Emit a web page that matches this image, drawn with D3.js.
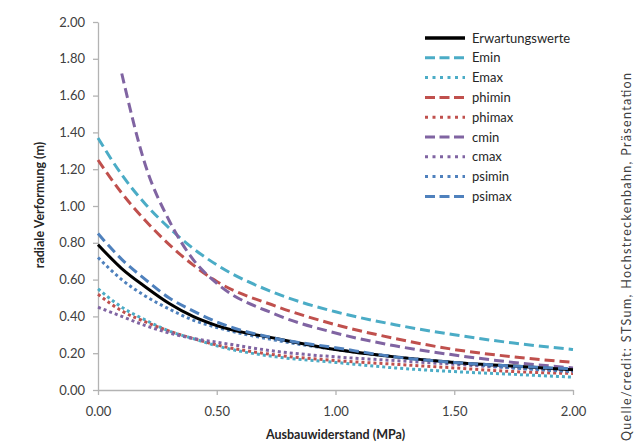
<!DOCTYPE html>
<html>
<head>
<meta charset="utf-8">
<script src="https://cdn.jsdelivr.net/npm/d3@7"></script>
<style>
  body { margin: 0; background: #fff; }
  svg text { font-family: Lato, "Open Sans", sans-serif; }
</style>
</head>
<body>
<div class="chart"></div>
<script>
// x values (MPa)
const xVals = [0, 0.1, 0.2, 0.3, 0.4, 0.5, 0.75, 1.0, 1.25, 1.5, 1.75, 2.0];

// radial deformation (m)
const erwartung = [0.79, 0.66, 0.56, 0.47, 0.40, 0.35, 0.28, 0.22, 0.18, 0.15, 0.13, 0.11];
const emin      = [1.37, 1.17, 1.01, 0.88, 0.77, 0.68, 0.525, 0.425, 0.355, 0.30, 0.255, 0.22];
const emax      = [0.55, 0.45, 0.38, 0.32, 0.28, 0.24, 0.18, 0.15, 0.12, 0.10, 0.085, 0.07];
const phimin    = [1.25, 1.07, 0.92, 0.79, 0.68, 0.59, 0.455, 0.355, 0.28, 0.22, 0.18, 0.15];
const phimax    = [0.52, 0.43, 0.37, 0.32, 0.28, 0.245, 0.19, 0.16, 0.14, 0.12, 0.10, 0.09];
const cmin      = [null, 1.72, 1.22, 0.92, 0.71, 0.58, 0.41, 0.31, 0.24, 0.19, 0.15, 0.12];
const cmax      = [0.45, 0.40, 0.35, 0.31, 0.28, 0.26, 0.21, 0.18, 0.16, 0.14, 0.12, 0.105];
const psimin    = [0.72, 0.60, 0.51, 0.44, 0.38, 0.34, 0.27, 0.22, 0.18, 0.15, 0.12, 0.10];
const psimax    = [0.85, 0.71, 0.60, 0.50, 0.43, 0.37, 0.28, 0.23, 0.18, 0.15, 0.13, 0.115];

const xTicks = [0, 0.5, 1.0, 1.5, 2.0];
const yTicks = [0, 0.2, 0.4, 0.6, 0.8, 1.0, 1.2, 1.4, 1.6, 1.8, 2.0];

const seriesNames = ["Erwartungswerte", "Emin", "Emax", "phimin", "phimax", "cmin", "cmax", "psimin", "psimax"];
const seriesValues = [erwartung, emin, emax, phimin, phimax, cmin, cmax, psimin, psimax];

// styling per series
const colors = {
  Erwartungswerte: "#000000",
  Emin: "#4bacc6", Emax: "#4bacc6",
  phimin: "#c0504d", phimax: "#c0504d",
  cmin: "#8064a2", cmax: "#8064a2",
  psimin: "#4f81bd", psimax: "#4f81bd"
};
const dashOf = name => {
  if (name === "Erwartungswerte") return null;
  if (name === "psimin") return "3,3";
  if (name === "psimax") return "10,5";
  return name.endsWith("min") ? "10,5" : "3,3";
};

const series = seriesNames.map((name, i) => ({
  name,
  values: xVals.map((x, j) => ({ x, y: seriesValues[i][j] }))
}));

// margin convention
const margin = { top: 22, right: 67, bottom: 55, left: 98 };
const W = 640, H = 445;
const width = W - margin.left - margin.right,
  height = H - margin.top - margin.bottom;

const svg = d3.select(".chart")
  .append("svg")
  .attr("width", W)
  .attr("height", H);

const g = svg.append("g")
  .attr("transform", `translate(${margin.left},${margin.top})`);

const x = d3.scaleLinear().domain([0, 2]).range([0, width]);
const y = d3.scaleLinear().domain([0, 2]).range([height, 0]);

// axes
const xAxis = d3.axisBottom(x).tickValues(xTicks).tickFormat(d3.format(".2f")).tickSizeInner(5).tickSizeOuter(0).tickPadding(12);
const yAxis = d3.axisLeft(y).tickValues(yTicks).tickFormat(d3.format(".2f")).tickSizeInner(5).tickSizeOuter(0).tickPadding(8);

g.append("g")
  .attr("class", "axis x-axis")
  .attr("transform", `translate(0,${height})`)
  .call(xAxis);

g.append("g")
  .attr("class", "axis y-axis")
  .call(yAxis);

g.selectAll(".axis path, .axis line")
  .attr("stroke", "#b3b3b3")
  .attr("stroke-width", 1.3);
g.selectAll(".axis text")
  .attr("fill", "#404040")
  .style("font-size", "13px");
g.select(".x-axis").selectAll("text").attr("dy", "0.71em");

// axis titles
svg.append("text")
  .attr("x", margin.left + width / 2)
  .attr("y", 439)
  .attr("text-anchor", "middle")
  .attr("font-weight", "bold")
  .attr("fill", "#262626")
  .style("font-size", "12.5px")
  .text("Ausbauwiderstand (MPa)");

svg.append("text")
  .attr("transform", "translate(44,205) rotate(-90)")
  .attr("text-anchor", "middle")
  .attr("font-weight", "bold")
  .attr("fill", "#262626")
  .style("font-size", "12.5px")
  .text("radiale Verformung (m)");

// lines
const line = d3.line()
  .defined(d => d.y !== null)
  .x(d => x(d.x))
  .y(d => y(d.y))
  .curve(d3.curveMonotoneX);

// draw in an order so the black line sits on top of the dotted ones
const drawOrder = ["Emin", "phimin", "cmin", "Emax", "phimax", "cmax", "psimin", "Erwartungswerte", "psimax"];
g.selectAll(".series")
  .data(drawOrder.map(n => series.find(s => s.name === n)))
  .enter()
  .append("path")
  .attr("class", "series")
  .attr("fill", "none")
  .attr("stroke", d => colors[d.name])
  .attr("stroke-width", 3)
  .attr("stroke-dasharray", d => dashOf(d.name))
  .attr("d", d => line(d.values));

// legend
const legend = svg.append("g").attr("transform", "translate(425,38)");
const rows = legend.selectAll(".row")
  .data(seriesNames)
  .enter()
  .append("g")
  .attr("class", "row")
  .attr("transform", (d, i) => `translate(0,${i * 19.8})`);

rows.append("line")
  .attr("x1", 0).attr("x2", 40)
  .attr("y1", 0).attr("y2", 0)
  .attr("stroke", d => colors[d])
  .attr("stroke-width", d => d === "Erwartungswerte" ? 3.5 : 3)
  .attr("stroke-dasharray", d => d === "Erwartungswerte" ? null : (dashOf(d) === "3,3" ? "3,4.5" : "10,4.5"));

rows.append("text")
  .attr("x", 47)
  .attr("y", 0)
  .attr("dy", "0.35em")
  .attr("fill", "#262626")
  .style("font-size", "13px")
  .text(d => d);

// source note on the right edge
svg.append("text")
  .attr("transform", "translate(631,441) rotate(-90)")
  .attr("fill", "#404040")
  .style("font-size", "12.5px")
  .attr("textLength", 368)
  .attr("lengthAdjust", "spacing")
  .text("Quelle/credit: STSum, Hochstreckenbahn, Präsentation");
</script>
</body>
</html>
